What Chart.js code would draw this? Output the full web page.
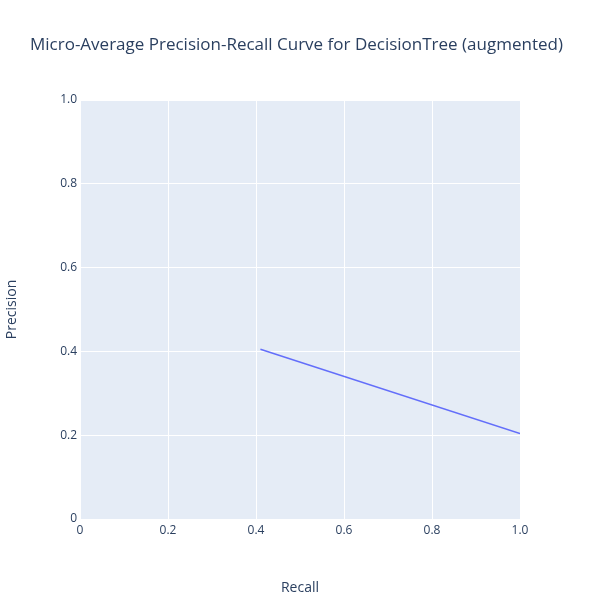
<!DOCTYPE html>
<html>
<head>
<script src="https://cdn.jsdelivr.net/npm/chart.js@4/dist/chart.umd.min.js"></script>
<style>
  body { margin: 0; background: #fff; }
  #wrap { width: 600px; height: 600px; }
</style>
</head>
<body>
<div id="wrap"><canvas id="prChart" width="600" height="600"></canvas></div>
<script>
const recall = [0.41, 1];
const precision = [0.405, 0.204];
const tickValues = [0, 0.2, 0.4, 0.6, 0.8, 1];

const textColor = '#2a3f5f';
const fontFamily = '"Open Sans", "Noto Sans", sans-serif';

// plotly-like grey plot area and left-aligned title
const plotBackground = {
    id: 'plotBackground',
    beforeDraw(chart) {
        const { ctx, chartArea } = chart;
        ctx.save();
        ctx.fillStyle = '#E5ECF6';
        ctx.fillRect(chartArea.left, chartArea.top, chartArea.right - chartArea.left, chartArea.bottom - chartArea.top);
        ctx.restore();
    },
    afterDraw(chart) {
        const ctx = chart.ctx;
        ctx.save();
        ctx.fillStyle = textColor;
        ctx.font = '17px ' + fontFamily;
        ctx.textBaseline = 'middle';
        ctx.fillText('Micro-Average Precision-Recall Curve for DecisionTree (augmented)', 30, 45);
        ctx.restore();
    }
};

const points = recall.map((r, i) => ({ x: r, y: precision[i] }));

new Chart(document.getElementById('prChart'), {
    type: 'scatter',
    data: {
        datasets: [{
            data: points,
            showLine: true,
            borderColor: '#636efa',
            borderWidth: 1.5,
            pointRadius: 0,
            fill: false
        }]
    },
    options: {
        responsive: false,
        animation: false,
        layout: { padding: { top: 100, right: 80, left: 0, bottom: 0 } },
        plugins: { legend: { display: false }, tooltip: { enabled: false } },
        scales: {
            x: {
                min: 0, max: 1,
                afterFit(scale) { scale.height = 81; },
                afterBuildTicks(scale) { scale.ticks = tickValues.map(v => ({ value: v })); },
                grid: { color: '#ffffff', lineWidth: 1, drawTicks: false },
                border: { display: false },
                ticks: { color: textColor, font: { family: fontFamily, size: 12 }, padding: 4 },
                title: { display: true, text: 'Recall', color: textColor, font: { family: fontFamily, size: 14 }, padding: { top: 12 } }
            },
            y: {
                min: 0, max: 1,
                afterFit(scale) { scale.width = 80; },
                afterBuildTicks(scale) { scale.ticks = tickValues.map(v => ({ value: v })); },
                grid: { color: '#ffffff', lineWidth: 1, drawTicks: false },
                border: { display: false },
                ticks: { color: textColor, font: { family: fontFamily, size: 12 }, padding: 3 },
                title: { display: true, text: 'Precision', color: textColor, font: { family: fontFamily, size: 14 }, padding: { bottom: 14 } }
            }
        }
    },
    plugins: [plotBackground]
});
</script>
</body>
</html>
